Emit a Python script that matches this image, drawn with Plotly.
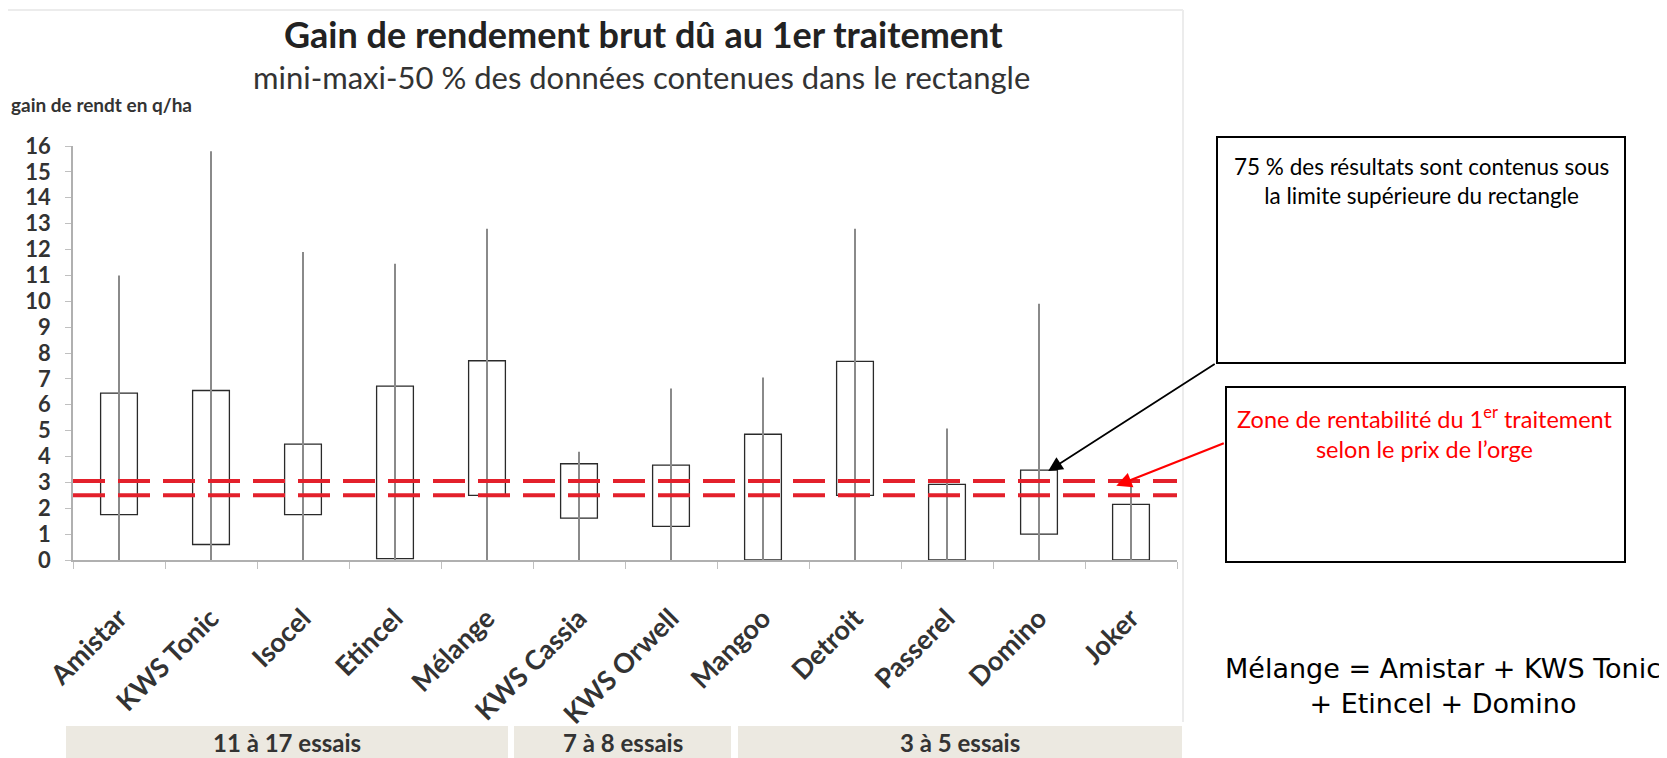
import plotly.graph_objects as go

# ---------------- data ----------------
varietes = ["Amistar", "KWS Tonic", "Isocel", "Etincel", "Mélange", "KWS Cassia",
            "KWS Orwell", "Mangoo", "Detroit", "Passerel", "Domino", "Joker"]
mini = [0, 0, 0, 0, 0, 0, 0, 0, 0, 0, 0, 0]
maxi = [11.0, 15.8, 11.9, 11.45, 12.8, 4.18, 6.63, 7.05, 12.8, 5.08, 9.9, 2.85]
q1 = [1.75, 0.6, 1.75, 0.05, 2.5, 1.62, 1.3, 0.0, 2.5, 0.0, 1.0, 0.0]
q3 = [6.45, 6.55, 4.48, 6.72, 7.7, 3.72, 3.67, 4.86, 7.68, 2.92, 3.47, 2.15]
zone_rentabilite = [2.5, 3.05]
groupes = ["11 à 17 essais", "7 à 8 essais", "3 à 5 essais"]
y_ticks = list(range(0, 17))

# ---------------- geometry ----------------
# the page body adds an 8px margin, so the figure is 8px smaller and all
# helper positions below are expressed in window pixels
OFF = 8
W_WIN, H_WIN = 1667, 758
W_FIG, H_FIG = W_WIN - OFF, H_WIN - OFF
AX_L, AX_R, AX_T, AX_B = 73, 1177, 146, 560      # plot area in window pixels
L = AX_L - OFF
R = W_WIN - AX_R
T = AX_T - OFF
B = H_WIN - AX_B
PW = AX_R - AX_L
PH = AX_B - AX_T


def px(xp):
    return (xp - AX_L) / PW


def py(yp):
    return (AX_B - yp) / PH


FONT_C = "Lato"

fig = go.Figure()

# whiskers (min-max)
wx, wy = [], []
for c, lo, hi in zip(varietes, mini, maxi):
    wx += [c, c, None]
    wy += [lo, hi, None]
fig.add_trace(go.Scatter(x=wx, y=wy, mode="lines",
                         line=dict(color="#8a8a8a", width=2),
                         hoverinfo="skip", showlegend=False))

# boxes (q1-q3)
fig.add_trace(go.Bar(x=varietes, y=[b - a for a, b in zip(q1, q3)], base=q1,
                     width=0.4,
                     marker=dict(color="rgba(0,0,0,0)",
                                 line=dict(color="#2a2a2a", width=1.3)),
                     showlegend=False))

shapes = []
for v in zone_rentabilite:
    shapes.append(dict(type="line", xref="x", yref="y", x0=-0.5, x1=11.5, y0=v, y1=v,
                       line=dict(color="#E3202B", width=4, dash="32px,13px")))

# right-hand boxes
shapes.append(dict(type="rect", xref="paper", yref="paper",
                   x0=px(1217), x1=px(1625), y0=py(363), y1=py(137),
                   line=dict(color="black", width=2), fillcolor="rgba(0,0,0,0)"))
shapes.append(dict(type="rect", xref="paper", yref="paper",
                   x0=px(1226), x1=px(1625), y0=py(562), y1=py(387),
                   line=dict(color="black", width=2), fillcolor="rgba(0,0,0,0)"))

# faint chart frame (top and right)
shapes.append(dict(type="line", xref="paper", yref="paper",
                   x0=px(OFF), x1=px(1183), y0=py(10), y1=py(10),
                   line=dict(color="#ececec", width=2)))
shapes.append(dict(type="line", xref="paper", yref="paper",
                   x0=px(1183), x1=px(1183), y0=py(10), y1=py(722),
                   line=dict(color="#ececec", width=2)))

# bottom group bands
bands = [(66, 508), (514, 731), (738, 1182)]
for (a, b) in bands:
    shapes.append(dict(type="rect", xref="paper", yref="paper",
                       x0=px(a), x1=px(b), y0=py(H_WIN), y1=py(726),
                       line=dict(width=0), fillcolor="#ECE9E1", layer="below"))

annotations = []
for (a, b), g in zip(bands, groupes):
    annotations.append(dict(xref="paper", yref="paper", x=px((a + b) / 2), y=py(742),
                            text=g, showarrow=False, xanchor="center", yanchor="middle",
                            font=dict(family=FONT_C, size=24, color="#333333", weight="bold")))

# titles
annotations.append(dict(xref="paper", yref="paper", x=px(643), y=py(34),
                        text="<b>Gain de rendement brut dû au 1er traitement</b>",
                        showarrow=False, xanchor="center", yanchor="middle",
                        font=dict(family=FONT_C, size=36, color="#222222")))
annotations.append(dict(xref="paper", yref="paper", x=px(641), y=py(77),
                        text="mini-maxi-50 % des données contenues dans le rectangle",
                        showarrow=False, xanchor="center", yanchor="middle",
                        font=dict(family=FONT_C, size=31, color="#333333")))
annotations.append(dict(xref="paper", yref="paper", x=px(9), y=py(104),
                        text="<b>gain de rendt en q/ha</b>",
                        showarrow=False, xanchor="left", yanchor="middle",
                        font=dict(family=FONT_C, size=19, color="#333333")))

# box texts
annotations.append(dict(xref="paper", yref="paper", x=px(1421), y=py(181),
                        text="75 % des résultats sont contenus sous<br>la limite supérieure du rectangle",
                        showarrow=False, xanchor="center", yanchor="middle", align="center",
                        font=dict(family=FONT_C, size=22.5, color="black")))
annotations.append(dict(xref="paper", yref="paper", x=px(1425), y=py(432),
                        text="Zone de rentabilité du 1<sup>er</sup> traitement<br>selon le prix de l’orge",
                        showarrow=False, xanchor="center", yanchor="middle", align="center",
                        font=dict(family=FONT_C, size=23.5, color="#FF0000")))

# arrows
annotations.append(dict(xref="x", yref="y", x=10.1, y=3.44, ax=168, ay=-108,
                        text="", showarrow=True, arrowhead=2, arrowsize=1.6,
                        arrowwidth=1.8, arrowcolor="black"))
annotations.append(dict(xref="x", yref="y", x=10.84, y=2.87, ax=109, ay=-43,
                        text="", showarrow=True, arrowhead=2, arrowsize=1.4,
                        arrowwidth=2.2, arrowcolor="#FF0000"))

# composition note
annotations.append(dict(xref="paper", yref="paper", x=px(1443), y=py(686),
                        text="Mélange = Amistar + KWS Tonic<br>+ Etincel + Domino",
                        showarrow=False, xanchor="center", yanchor="middle", align="center",
                        font=dict(family="DejaVu Sans", size=27, color="black")))

fig.update_layout(
    width=W_FIG, height=H_FIG,
    margin=dict(l=L, r=R, t=T, b=B, pad=0),
    paper_bgcolor="white", plot_bgcolor="white",
    shapes=shapes, annotations=annotations,
    xaxis=dict(type="category", range=[-0.5, 11.5], showgrid=False, zeroline=False,
               showline=True, linecolor="#b0b0b0", linewidth=1.5,
               ticks="outside", tickson="boundaries", ticklen=7, tickcolor="#c0c0c0",
               tickangle=-45, ticklabelstandoff=30,
               tickfont=dict(family=FONT_C, size=27, color="#333333", weight="bold")),
    yaxis=dict(range=[0, 16], tickvals=y_ticks, showgrid=False, zeroline=False,
               showline=True, linecolor="#b0b0b0", linewidth=1.5,
               ticks="outside", ticklen=6, tickcolor="#c0c0c0", ticklabelstandoff=10,
               tickfont=dict(family=FONT_C, size=22, color="#333333", weight="bold")),
)

fig.write_html("out.html")
